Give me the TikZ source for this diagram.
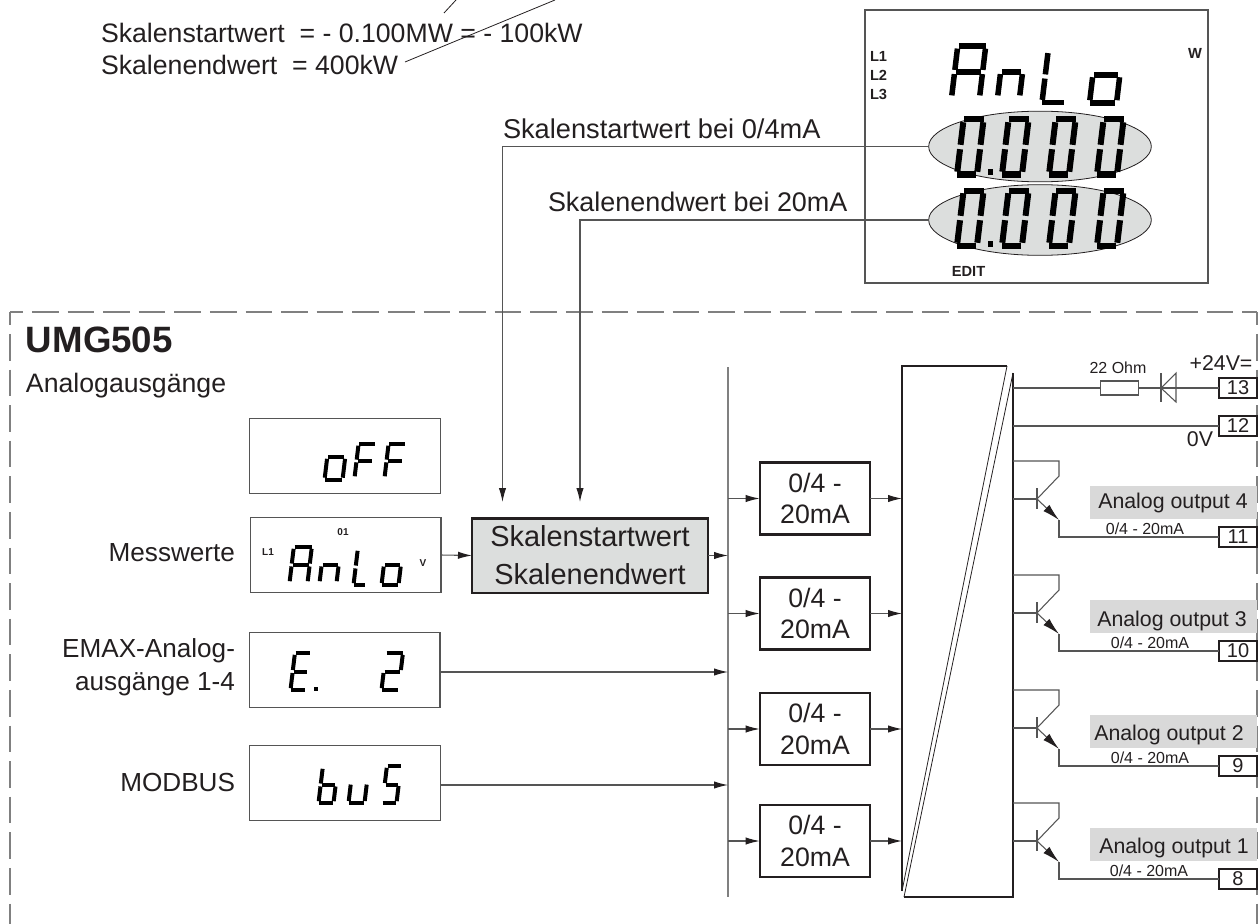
\documentclass[tikz,border=0pt]{standalone}
\usepackage{fontspec}
\setmainfont{Liberation Sans}
\usetikzlibrary{arrows.meta,shapes.geometric}

\definecolor{inkc}{HTML}{231F20}
\definecolor{linec}{HTML}{555555}
\definecolor{busc}{HTML}{808080}
\definecolor{lcdc}{HTML}{DCDEDD}
\definecolor{labelc}{HTML}{D9D9D9}

\tikzset{
  lbl/.style={text=inkc, inner sep=0pt, outer sep=0pt},
  txtmain/.style={lbl, font=\fontsize{20}{22}\selectfont},
  txtside/.style={lbl, font=\fontsize{19.6}{24.6}\selectfont, align=right},
  txtout/.style={lbl, font=\fontsize{16}{19}\selectfont},
  txtsmall/.style={lbl, font=\fontsize{12}{14}\selectfont},
  txttiny/.style={lbl, font=\bfseries\fontsize{7.5}{8}\selectfont},
  txtlcd/.style={lbl, font=\bfseries\fontsize{11}{12}\selectfont},
  conn/.style={draw=linec, line width=0.8pt},
  thin line/.style={draw=inkc, line width=0.6pt},
  arr/.style={-{Latex[length=10.5pt,width=5.5pt,color=inkc]}},
  lcdbox/.style={draw=linec, line width=1pt, minimum width=143pt, minimum height=56.5pt, inner sep=0pt, outer sep=0pt},
  chanbox/.style={draw=inkc, line width=1.6pt, minimum width=83pt, minimum height=54pt, inner sep=0pt, outer sep=0pt,
    text=inkc, align=center, font=\fontsize{20}{23.7}\selectfont},
  termbox/.style={draw=inkc, line width=0.8pt, minimum width=28.5pt, minimum height=15pt, inner sep=0pt, outer sep=0pt,
    text=inkc, font=\fontsize{15}{15}\selectfont},
  outbg/.style={fill=labelc, minimum width=125pt, minimum height=24.7pt, inner sep=0pt, outer sep=0pt},
  oval/.style={ellipse, draw=inkc, line width=0.6pt, fill=lcdc, minimum width=167pt, minimum height=53pt, inner sep=0pt, outer sep=0pt},
  segline/.style={draw=black, line cap=butt},
  frameline/.style={draw=busc, line width=1pt, dash pattern=on 20pt off 6.7pt, dash phase=10.25pt},
}

% segments of one LCD character, x in 0..1 and y in 0..2
\newcommand{\sega}{\draw[segline] (0.04,2) -- (1,2);}
\newcommand{\segb}{\draw[segline] (1,1.08) -- (1,1.9);}
\newcommand{\segc}{\draw[segline] (1,0.1) -- (1,0.92);}
\newcommand{\segd}{\draw[segline] (0,0) -- (0.96,0);}
\newcommand{\sege}{\draw[segline] (0,0.1) -- (0,0.92);}
\newcommand{\segf}{\draw[segline] (0,1.08) -- (0,1.9);}
\newcommand{\segg}{\draw[segline] (0.06,1) -- (0.94,1);}
% x, y of lower left, width, half height, stroke, segments
\newcommand{\lcdchar}[6]{%
  \begin{scope}[shift={(#1,#2)},x=#3*0.75pt,y=#4*0.75pt,xslant=0.12,line width=#5*0.75pt]
    #6
  \end{scope}}

\begin{document}
\begin{tikzpicture}[x=0.75pt,y=-0.75pt]
  \useasboundingbox (0,0) rectangle (1258,924);

  % Text top left with its two leaders
  \node[txtmain, anchor=base west] (startval) at (101,43) {Skalenstartwert\ \ = - 0.100MW = - 100kW};
  \node[txtmain, anchor=base west] (endval) at (101,75) {Skalenendwert\ \ = 400kW};
  \coordinate (leadA) at (444,13);
  \coordinate (leadAend) at (456,0);
  \coordinate (leadB) at (405,62);
  \coordinate (leadBend) at (555,0);
  \draw[thin line] (leadA) -- (leadAend);
  \draw[thin line] (leadB) -- (leadBend);

  % Device display
  \node[draw=linec, line width=1.2pt, minimum width=257pt, minimum height=205pt, inner sep=0pt, outer sep=0pt] (display) at (1036.5,146.5) {};
  \node[oval] (ovalA) at (1040,146.5) {};
  \node[oval] (ovalB) at (1040,220) {};
  \node[txtlcd, anchor=mid west] (lone) at (870,58) {L1};
  \node[txtlcd, anchor=mid west] (ltwo) at (870,77) {L2};
  \node[txtlcd, anchor=mid west] (lthree) at (870,96) {L3};
  \node[txtlcd, anchor=mid] (unitw) at (1195,55) {W};
  \node[txtlcd, anchor=mid] (edit) at (968.5,273) {EDIT};
  \lcdchar{951.5}{98}{28}{26}{5.5}{\sega\segb\segc\sege\segf\segg}
  \lcdchar{997.5}{98}{22}{26}{5.5}{\segc\sege\segg}
  \lcdchar{1042}{102.5}{23}{26}{5.5}{\segd\sege\segf}
  \lcdchar{1089.5}{103}{27}{28}{5.5}{\segc\segd\sege\segg}
  \foreach \rowy in {174.5,245.5}{
    \foreach \digx in {957,1002,1049,1097}{
      \lcdchar{\digx}{\rowy}{20}{27.5}{6}{\sega\segb\segc\segd\sege\segf}
    }
    \fill[black] (987.5,\rowy-5) rectangle (992.5,\rowy+1);
  }

  % Frame of the device
  \coordinate (frametl) at (10,312);
  \coordinate (frametr) at (1257,312);
  \coordinate (framebl) at (10,924);
  \coordinate (framebr) at (1257,924);
  \draw[frameline] (frametl) -- (frametr);
  \draw[frameline] (frametl) -- (framebl);
  \draw[frameline] (frametr) -- (framebr);
  \node[lbl, font=\bfseries\fontsize{27.5}{30}\selectfont, anchor=mid west] (title) at (26,349) {UMG505};
  \node[lbl, font=\fontsize{20}{23}\selectfont, anchor=mid west] (subtitle) at (26,389) {Analogausgänge};

  % Sources
  \node[lcdbox] (offbox) at (345,456) {};
  \node[lcdbox] (anlobox) at (345.5,555) {};
  \node[lcdbox] (emaxbox) at (344.5,670) {};
  \node[lcdbox] (busbox) at (345,783) {};
  \node[txtside, anchor=mid east] (messw) at (235,558) {Messwerte};
  \node[txtside, anchor=east] (emaxl) at (235,667) {EMAX-Analog-\\ausgänge 1-4};
  \node[txtside, anchor=mid east] (modb) at (235,788) {MODBUS};

  \lcdchar{324.5}{480}{18}{23}{4}{\segc\segd\sege\segg}
  \lcdchar{354.5}{478}{16}{17}{4}{\sega\sege\segf\segg}
  \lcdchar{384.5}{478}{16}{17}{4}{\sega\sege\segf\segg}

  \node[txttiny, anchor=mid] (markl) at (268,552) {L1};
  \node[txttiny, anchor=mid] (markn) at (343,532) {01};
  \node[txttiny, anchor=mid] (markv) at (423,563) {V};
  \lcdchar{289.5}{583}{18}{18}{4}{\sega\segb\segc\sege\segf\segg}
  \lcdchar{319.5}{583}{17}{18}{4}{\segc\sege\segg}
  \lcdchar{353.5}{585}{12}{18}{4}{\segd\sege\segf}
  \lcdchar{381.5}{585}{17}{20}{4}{\segc\segd\sege\segg}

  \lcdchar{290.5}{690}{15.5}{18.5}{4}{\sega\segd\sege\segf\segg}
  \fill[black] (314,687) rectangle (318,691);
  \lcdchar{381.5}{690}{17}{18.5}{4}{\sega\segb\segd\sege\segg}

  \lcdchar{318.5}{803}{15}{18}{4}{\segc\segd\sege\segf\segg}
  \lcdchar{348.5}{803}{16}{20}{4}{\segc\segd\sege}
  \lcdchar{382.5}{803}{14}{18.5}{4}{\sega\segc\segd\segf\segg}

  % Scaling box
  \node[draw=inkc, line width=2pt, fill=lcdc, minimum width=177pt, minimum height=56pt, inner sep=0pt, outer sep=0pt,
    text=inkc, align=center, font=\fontsize{21.7}{28.5}\selectfont] (scalebox) at (590,555.5) {Skalenstartwert\\Skalenendwert};
  \node[lbl, font=\fontsize{20.4}{24}\selectfont, anchor=mid west] (startlbl) at (503,135) {Skalenstartwert bei 0/4mA};
  \node[lbl, font=\fontsize{20.2}{24}\selectfont, anchor=mid west] (endlbl) at (548,208) {Skalenendwert bei 20mA};
  \coordinate (inA) at (502.5,502);
  \coordinate (inB) at (580,502);
  \draw[conn, arr] (ovalA.west) -| (inA);
  \draw[conn, arr] (ovalB.west) -| (inB);

  % Bus
  \coordinate (bustop) at (728,367);
  \coordinate (busbot) at (728,897);
  \draw[draw=busc, line width=1.2pt] (bustop) -- (busbot);
  \coordinate (emaxout) at ([yshift=-1.5pt]emaxbox.east);
  \coordinate (busout) at ([yshift=-1.5pt]busbox.east);
  \draw[conn, arr] (anlobox.east) -- (scalebox.west);
  \draw[conn, arr] (scalebox.east) -- (scalebox.east -| bustop);
  \draw[conn, arr] (emaxout) -- (emaxout -| bustop);
  \draw[conn, arr] (busout) -- (busout -| bustop);

  % Converter
  \coordinate (convnw) at (902,366);
  \coordinate (convne) at (1007,366);
  \coordinate (convsw) at (902,891);
  \coordinate (convse) at (904,897);
  \coordinate (convtr) at (1013,373);
  \coordinate (convbr) at (1013,897);
  \draw[draw=inkc, line width=1.6pt] (convne) -- (convnw) -- (convsw);
  \draw[draw=inkc, line width=1.6pt] (convse) -- (convbr) -- (convtr);
  \draw[thin line] (convne) -- (convsw);
  \draw[thin line] (convtr) -- (convse);

  % Channels
  \foreach \n/\cy in {1/498.5,2/613.5,3/729,4/841}{
    \node[chanbox] (chan\n) at (815,\cy) {0/4 -\\20mA};
    \draw[conn, arr] (chan\n -| bustop) -- (chan\n.west);
    \draw[conn, arr] (chan\n.east) -- (chan\n -| convnw);
  }

  % Supply
  \node[termbox] (term13) at (1238,388) {13};
  \node[termbox] (term12) at (1238,426) {12};
  \node[draw=linec, line width=0.9pt, minimum width=28pt, minimum height=10.5pt, inner sep=0pt, outer sep=0pt] (resistor) at (1119.5,388) {};
  \coordinate (dioa) at (1161,388);
  \node[txtsmall, anchor=mid] (reslbl) at (1118,370) {22 Ohm};
  \node[lbl, font=\fontsize{16}{19}\selectfont, anchor=mid] (plus) at (1221,367) {+24V=};
  \node[lbl, font=\fontsize{16}{19}\selectfont, anchor=mid] (zero) at (1200,443) {0V};
  \draw[conn] (resistor -| convtr) -- (resistor);
  \draw[conn] (resistor) -- (dioa);
  \draw[conn] (dioa) -- (term13);
  \draw[conn] (term12 -| convtr) -- (term12);
  \draw[conn] (1161,373) -- (1161,402);
  \draw[conn] (dioa) -- (1176,373) -- (1176,402) -- cycle;

  % Outputs
  \foreach \tn/\cc/\cl/\lx/\ly/\ax/\ay in {11/461/4/1173/505/1145/531,10/575/3/1172/623/1150/645,9/690/2/1169/737/1150/760,8/803/1/1174/850/1149/873}{
    \node[outbg] (bg\tn) at (1173.5,\cc+41.5) {};
    \node[txtout, anchor=mid] (lab\tn) at (\lx,\ly) {Analog output \cl};
    \node[txtsmall, anchor=mid] (val\tn) at (\ax,\ay) {0/4 - 20mA};
    \node[termbox] (term\tn) at (1238,\cc+76) {\tn};
    \coordinate (base\tn) at (1037,\cc+38);
    \coordinate (coll\tn) at (1059,\cc+15);
    \coordinate (emit\tn) at (1059,\cc+59);
    \draw[conn] (1013,\cc) -- (1059,\cc) -- (coll\tn) -- (base\tn);
    \draw[conn] (base\tn -| convtr) -- (base\tn);
    \draw[conn] (1037,\cc+27) -- (1037,\cc+48);
    \draw[conn, -{Latex[length=13pt,width=6.5pt,color=inkc]}] (base\tn) -- (emit\tn);
    \draw[conn] (emit\tn) |- (term\tn);
  }
\end{tikzpicture}
\end{document}
